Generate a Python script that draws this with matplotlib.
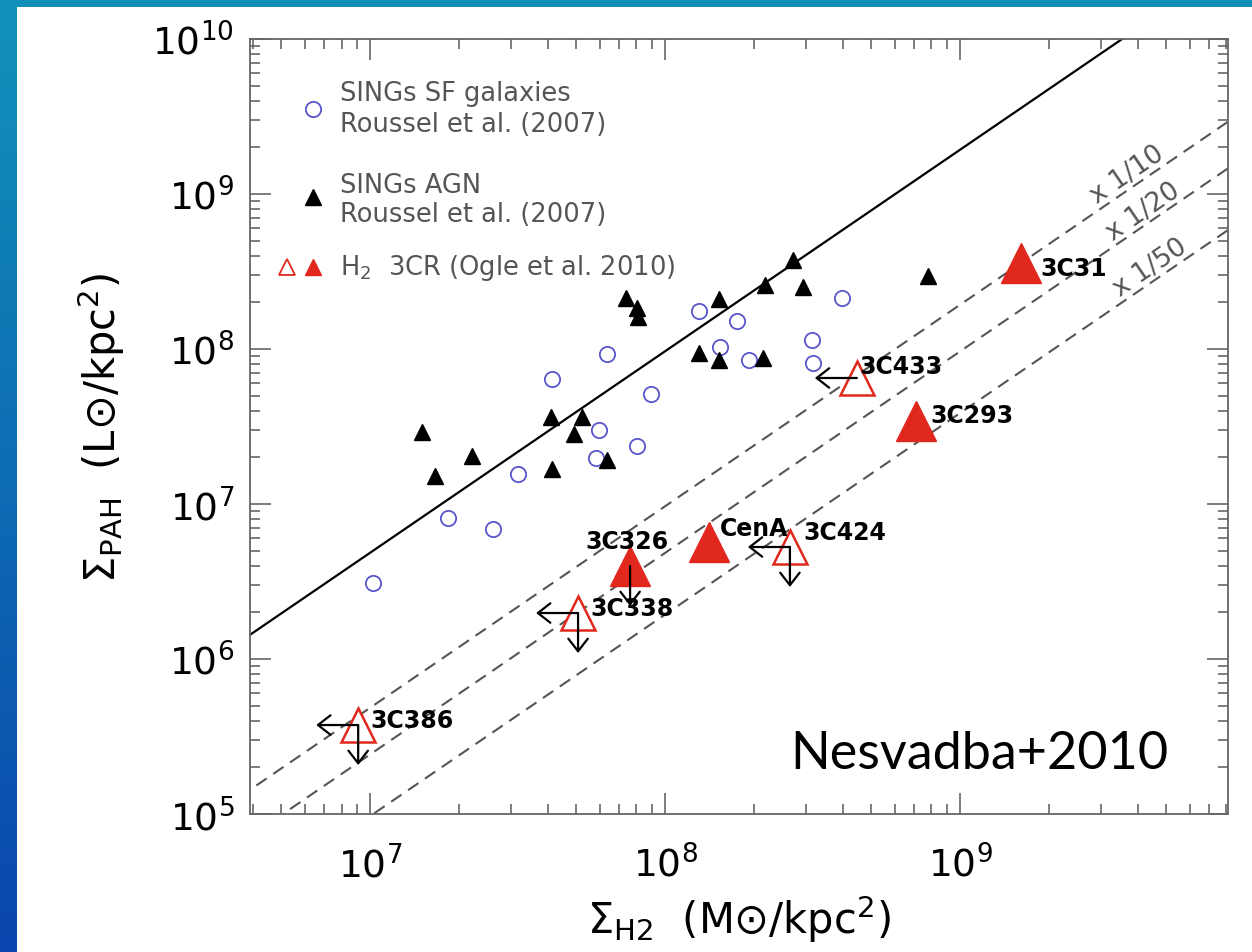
import numpy as np
import matplotlib.pyplot as plt
from matplotlib.transforms import offset_copy
from matplotlib.colors import LinearSegmentedColormap

# SINGs star-forming galaxies (Roussel et al. 2007)
sf_h2 = [1.02e7, 1.84e7, 2.60e7, 3.16e7, 4.13e7, 6.34e7, 8.93e7, 5.99e7, 5.81e7,
         8.04e7, 1.30e8, 1.75e8, 1.53e8, 1.93e8, 3.14e8, 3.18e8, 3.97e8]
sf_pah = [3.08e6, 8.09e6, 6.90e6, 1.56e7, 6.38e7, 9.22e7, 5.09e7, 3.02e7, 1.97e7,
          2.38e7, 1.77e8, 1.52e8, 1.03e8, 8.49e7, 1.14e8, 8.08e7, 2.12e8]

# SINGs AGN (Roussel et al. 2007)
agn_h2 = [1.50e7, 1.66e7, 2.22e7, 4.11e7, 5.22e7, 4.93e7, 4.13e7, 6.34e7, 7.36e7, 8.02e7,
          8.12e7, 1.30e8, 1.52e8, 1.52e8, 2.14e8, 2.18e8, 2.72e8, 2.93e8, 7.79e8]
agn_pah = [2.93e7, 1.52e7, 2.05e7, 3.66e7, 3.66e7, 2.83e7, 1.68e7, 1.92e7, 2.12e8, 1.83e8,
           1.62e8, 9.38e7, 8.49e7, 2.09e8, 8.71e7, 2.59e8, 3.75e8, 2.52e8, 2.96e8]

# H2 3CR (Ogle et al. 2010), detections
det_names = ["3C31", "3C293", "CenA", "3C326"]
det_h2 = [1.61e9, 7.09e8, 1.41e8, 7.61e7]
det_pah = [3.59e8, 3.43e7, 5.69e6, 3.98e6]
det_down = [False, False, False, True]

# H2 3CR upper limits
lim_names = ["3C433", "3C424", "3C338", "3C386"]
lim_h2 = [4.47e8, 2.65e8, 5.07e7, 9.11e6]
lim_pah = [6.50e7, 5.28e6, 1.98e6, 3.75e5]
lim_down = [False, True, True, True]

# label offsets (pixels) and alignment
det_lab = {"3C31": (19, -5, "left"), "3C293": (14, 6, "left"),
           "CenA": (11, 14, "left"), "3C326": (-3, 25, "center")}
lim_lab = {"3C433": (2, 12, "left"), "3C424": (13, 15, "left"),
           "3C338": (12, 5, "left"), "3C386": (12, 5, "left")}

# relation: PAH = coef * H2^slope, and scaled versions
rel_coef = 3.85e-3
rel_slope = 1.3
scales = [10, 20, 50]
scale_lab_x = [3.92e9, 4.41e9, 4.69e9]

red = "#e0281c"
blue = "#5a55cc"
gray = "#555555"

fig = plt.figure(figsize=(12.52, 9.53), dpi=100)

# slide background strips
grad = np.linspace(0, 1, 256).reshape(-1, 1)
cmap = LinearSegmentedColormap.from_list("slide", ["#1192ba", "#0a46ad"])
strip = fig.add_axes([0, 0, 17 / 1252, 1])
strip.imshow(grad, cmap=cmap, aspect="auto")
strip.axis("off")
top = fig.add_axes([0, 1 - 8 / 953, 1, 8 / 953])
top.set_facecolor("#1090b8")
top.set_xticks([])
top.set_yticks([])
for s in top.spines.values():
    s.set_visible(False)

ax = fig.add_axes([249.5 / 1252, 1 - 815 / 953, (1228 - 249.5) / 1252, 775 / 953])
ax.set_xscale("log")
ax.set_yscale("log")
ax.set_xlim(3.9e6, 8.1e9)
ax.set_ylim(1e5, 1e10)

xx = np.logspace(6.5, 10, 200)
ax.plot(xx, rel_coef * xx ** rel_slope, color="black", lw=1.6, zorder=2)
for f in scales:
    ax.plot(xx, rel_coef * xx ** rel_slope / f, color=gray, lw=1.5,
            linestyle=(0, (6, 3.8)), zorder=2)

# rotation of the dashed labels from display slope
p1 = ax.transData.transform((1e7, rel_coef * 1e7 ** rel_slope))
p2 = ax.transData.transform((1e9, rel_coef * 1e9 ** rel_slope))
ang = np.degrees(np.arctan2(p2[1] - p1[1], p2[0] - p1[0]))
for f, lx in zip(scales, scale_lab_x):
    ax.text(lx, rel_coef * lx ** rel_slope / f, "x 1/%d" % f, rotation=ang,
            rotation_mode="anchor", ha="center", va="bottom", fontsize=19,
            color=gray, zorder=3)

ax.plot(sf_h2, sf_pah, "o", ms=11, mfc="none", mec=blue, mew=1.3, zorder=4)
ax.plot(agn_h2, agn_pah, "^", ms=11, color="black", zorder=4)
ax.plot(det_h2, det_pah, "^", ms=29, color=red, mec=red, zorder=5)
ax.plot(lim_h2, lim_pah, "^", ms=25, mfc="white", mec=red, mew=1.8, zorder=5)

arrow = dict(arrowstyle="->,head_length=0.45,head_width=0.35", color="black",
             lw=1.6, shrinkA=0, shrinkB=0, mutation_scale=20)
left_tr = offset_copy(ax.transData, fig=fig, x=-42, y=0, units="dots")
down_tr = offset_copy(ax.transData, fig=fig, x=0, y=-40, units="dots")

for n, x, y, d in zip(det_names, det_h2, det_pah, det_down):
    if d:
        ax.annotate("", xy=(x, y), xycoords=down_tr, xytext=(x, y),
                    textcoords="data", arrowprops=arrow, zorder=6)
    dx, dy, ha = det_lab[n]
    ax.annotate(n, (x, y), xytext=(dx, dy), textcoords="offset pixels",
                ha=ha, va="center", fontsize=17, fontweight="bold", zorder=7)

for n, x, y, d in zip(lim_names, lim_h2, lim_pah, lim_down):
    ax.annotate("", xy=(x, y), xycoords=left_tr, xytext=(x, y),
                textcoords="data", arrowprops=arrow, zorder=6)
    if d:
        ax.annotate("", xy=(x, y), xycoords=down_tr, xytext=(x, y),
                    textcoords="data", arrowprops=arrow, zorder=6)
    dx, dy, ha = lim_lab[n]
    ax.annotate(n, (x, y), xytext=(dx, dy), textcoords="offset pixels",
                ha=ha, va="center", fontsize=17, fontweight="bold", zorder=7)

# legend, drawn by hand
tA = ax.transAxes
lfs = 18.5
ax.plot(0.0649, 0.9097, "o", ms=11, mfc="none", mec=blue, mew=1.3, transform=tA)
ax.text(0.0925, 0.9303, "SINGs SF galaxies", transform=tA, va="center", fontsize=lfs, color=gray)
ax.text(0.0925, 0.8903, "Roussel et al. (2007)", transform=tA, va="center", fontsize=lfs, color=gray)
ax.plot(0.0649, 0.7961, "^", ms=11, color="black", transform=tA)
ax.text(0.0925, 0.8116, "SINGs AGN", transform=tA, va="center", fontsize=lfs, color=gray)
ax.text(0.0925, 0.7742, "Roussel et al. (2007)", transform=tA, va="center", fontsize=lfs, color=gray)
ax.plot(0.0383, 0.7058, "^", ms=12, mfc="white", mec=red, mew=1.3, transform=tA)
ax.plot(0.0649, 0.7058, "^", ms=12, color=red, transform=tA)
ax.text(0.0925, 0.7058, r"H$_2$  3CR (Ogle et al. 2010)", transform=tA, va="center",
        fontsize=lfs, color=gray)

ax.set_xlabel(r"$\Sigma_{\mathrm{H2}}$  (M⊙/kpc$^{2}$)", fontsize=30, labelpad=6)
ax.set_ylabel(r"$\Sigma_{\mathrm{PAH}}$  (L⊙/kpc$^{2}$)", fontsize=30, labelpad=18)

for s in ax.spines.values():
    s.set_color("#666666")
    s.set_linewidth(1.3)
ax.tick_params(which="both", direction="in", top=True, right=True, color="#666666", width=1.2)
ax.tick_params(which="major", length=15, labelsize=27, pad=11)
ax.tick_params(axis="x", which="major", pad=22)
ax.tick_params(which="minor", length=7.5)

fig.text(790 / 1252, 1 - 769 / 953, "Nesvadba+2010", family="Lato", fontsize=37.5,
         va="baseline")

plt.savefig("out.png", dpi=100)
